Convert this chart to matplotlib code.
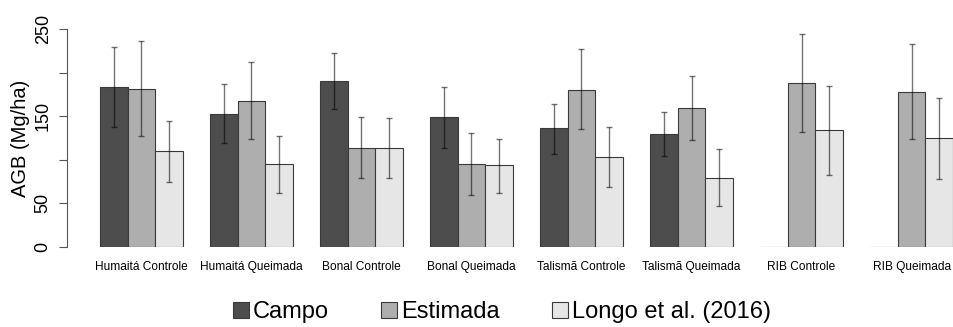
import matplotlib.pyplot as plt
from matplotlib.patches import Patch
import numpy as np

plt.rcParams['font.family'] = ['Liberation Sans', 'DejaVu Sans']

groups = ['Humaitá Controle', 'Humaitá Queimada', 'Bonal Controle', 'Bonal Queimada',
          'Talismã Controle', 'Talismã Queimada', 'RIB Controle', 'RIB Queimada']
series = ['Campo', 'Estimada', 'Longo et al. (2016)']

campo = [183, 152.5, 190, 148.7, 136.5, 130, 0, 0]
campo_lo = [138, 119, 158.6, 113.9, 106.7, 104.7, 0, 0]
campo_hi = [229, 186.6, 222.5, 183.8, 164.3, 155, 0, 0]

estimada = [181.5, 167.8, 113.9, 95.6, 180, 159.4, 187.7, 177.4]
estimada_lo = [127.7, 123.5, 79.5, 60, 135, 122.7, 131.5, 123.9]
estimada_hi = [236, 212, 148.7, 131, 226.7, 196.5, 244.6, 232.4]

longo = [110, 95, 113.9, 93.7, 103, 79, 133.8, 125.4]
longo_lo = [75, 62, 79.5, 62.3, 68.8, 47, 83, 78]
longo_hi = [145, 127, 148, 124.2, 137.6, 112, 184.3, 171.2]

colors = ['#4d4d4d', '#aeaeae', '#e6e6e6']

fig = plt.figure(figsize=(9.54, 3.27), dpi=100)
ax = fig.add_axes([67/954, 80/327, 887/954, 218/327])

values = [campo, estimada, longo]
lows = [campo_lo, estimada_lo, longo_lo]
highs = [campo_hi, estimada_hi, longo_hi]
idx = np.arange(len(groups))
for j in range(3):
    x = 1.5 + 4 * idx + j
    v = np.array(values[j])
    ax.bar(x, v, width=1.0, color=colors[j], edgecolor='#3a3a3a', linewidth=0.8, zorder=2)
    has = (np.array(highs[j]) > 0)
    yerr = [v[has] - np.array(lows[j])[has], np.array(highs[j])[has] - v[has]]
    ax.errorbar(x[has], v[has], yerr=yerr, fmt='none', ecolor='black', alpha=0.55,
                elinewidth=1, capsize=2, capthick=1, zorder=3)

ax.set_xlim(-0.2, 32.04)
ax.set_ylim(0, 250)
ax.set_xticks(2.5 + 4 * idx)
ax.set_xticklabels(groups, fontsize=8.6)
ax.tick_params(axis='x', length=0, pad=10)
ax.set_yticks([0, 50, 100, 150, 200, 250])
ax.set_yticklabels(['0', '50', '', '150', '', '250'], rotation=90, va='center', fontsize=13)
ax.tick_params(axis='y', length=6, width=0.8, color='#555555', pad=5)
ax.set_ylabel('AGB (Mg/ha)', fontsize=14.5)
ax.yaxis.set_label_coords(-37/887, 0.5)
for s in ['top', 'right', 'bottom']:
    ax.spines[s].set_visible(False)
ax.spines['left'].set_bounds(0, 250)
ax.spines['left'].set_color('#555555')
ax.spines['left'].set_linewidth(0.8)

handles = [Patch(facecolor=colors[j], edgecolor='#3a3a3a', linewidth=0.8) for j in range(3)]
fig.legend(handles, series, loc='center', bbox_to_anchor=(502/954, 15/327), ncol=3,
           frameon=False, fontsize=17, handlelength=0.68, handleheight=0.68,
           handletextpad=0.17, columnspacing=2.2, borderpad=0)

fig.savefig('out.png', dpi=100)
